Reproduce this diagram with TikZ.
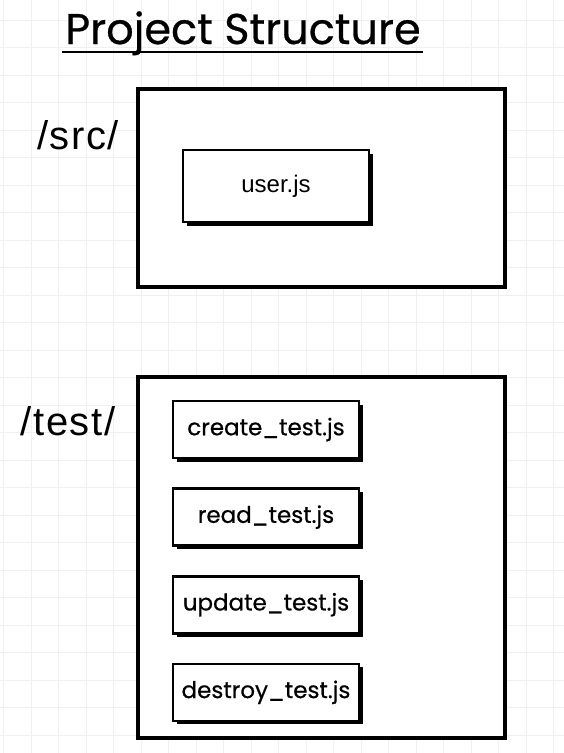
\documentclass[tikz,border=0pt]{standalone}
\usepackage{fontspec}
\setmainfont{Liberation Sans}
\newfontfamily\roundfont[FakeBold=0.6]{Poppins}
\usetikzlibrary{positioning,shadows}

\tikzset{
    gridline/.style={draw=black!6, line width=0.8pt},
    folder/.style={draw, line width=3.2pt, minimum width=367pt, minimum height=198pt},
    dirlabel/.style={font=\fontsize{40}{44}\selectfont\addfontfeature{LetterSpace=4}},
    filebox/.style={draw, fill=white, line width=2.6pt, minimum width=186pt, minimum height=57pt,
        drop shadow={shadow xshift=3.5pt, shadow yshift=-3.5pt, fill=black, opacity=1}},
    filetext/.style={font=\roundfont\fontsize{23}{26}\selectfont},
}

\begin{document}
\begin{tikzpicture}[x=1pt, y=-1pt, node distance=28pt]
        \useasboundingbox[fill=white] (0,0) rectangle (564,753);
        % background grid
        \foreach \gx in {0,...,20} \draw[gridline] (3.7+\gx*27.5,0) -- (3.7+\gx*27.5,753);
        \foreach \gy in {0,...,27} \draw[gridline] (0,20+\gy*27.5) -- (564,20+\gy*27.5);

        \node[inner sep=0pt, anchor=base, font=\roundfont\fontsize{43}{46}\selectfont] (title) at (243,44) {Project Structure};
        \draw[line width=2.4pt] ([xshift=-3pt, yshift=-8pt]title.base west) -- ([xshift=2pt, yshift=-8pt]title.base east);

        % src folder
        \node[folder, fill=white] (src) at (321.5,188) {};
        \node[dirlabel] (srclabel) at (78,135) {/src/};
        \node[filebox, minimum height=72pt, font=\fontsize{24}{27}\selectfont] (user) at (276,186) {user.js};

        % test folder
        \node[folder, fill=white, minimum height=361pt] (test) at (321.5,557.5) {};
        \node[dirlabel] (testlabel) at (68,421) {/test/};
        \node[filebox, filetext] (create) at (266,429.5) {create\_test.js};
        \node[filebox, filetext, below=of create] (read) {read\_test.js};
        \node[filebox, filetext, below=of read] (update) {update\_test.js};
        \node[filebox, filetext, below=of update] (destroy) {destroy\_test.js};
    \end{tikzpicture}
\end{document}
